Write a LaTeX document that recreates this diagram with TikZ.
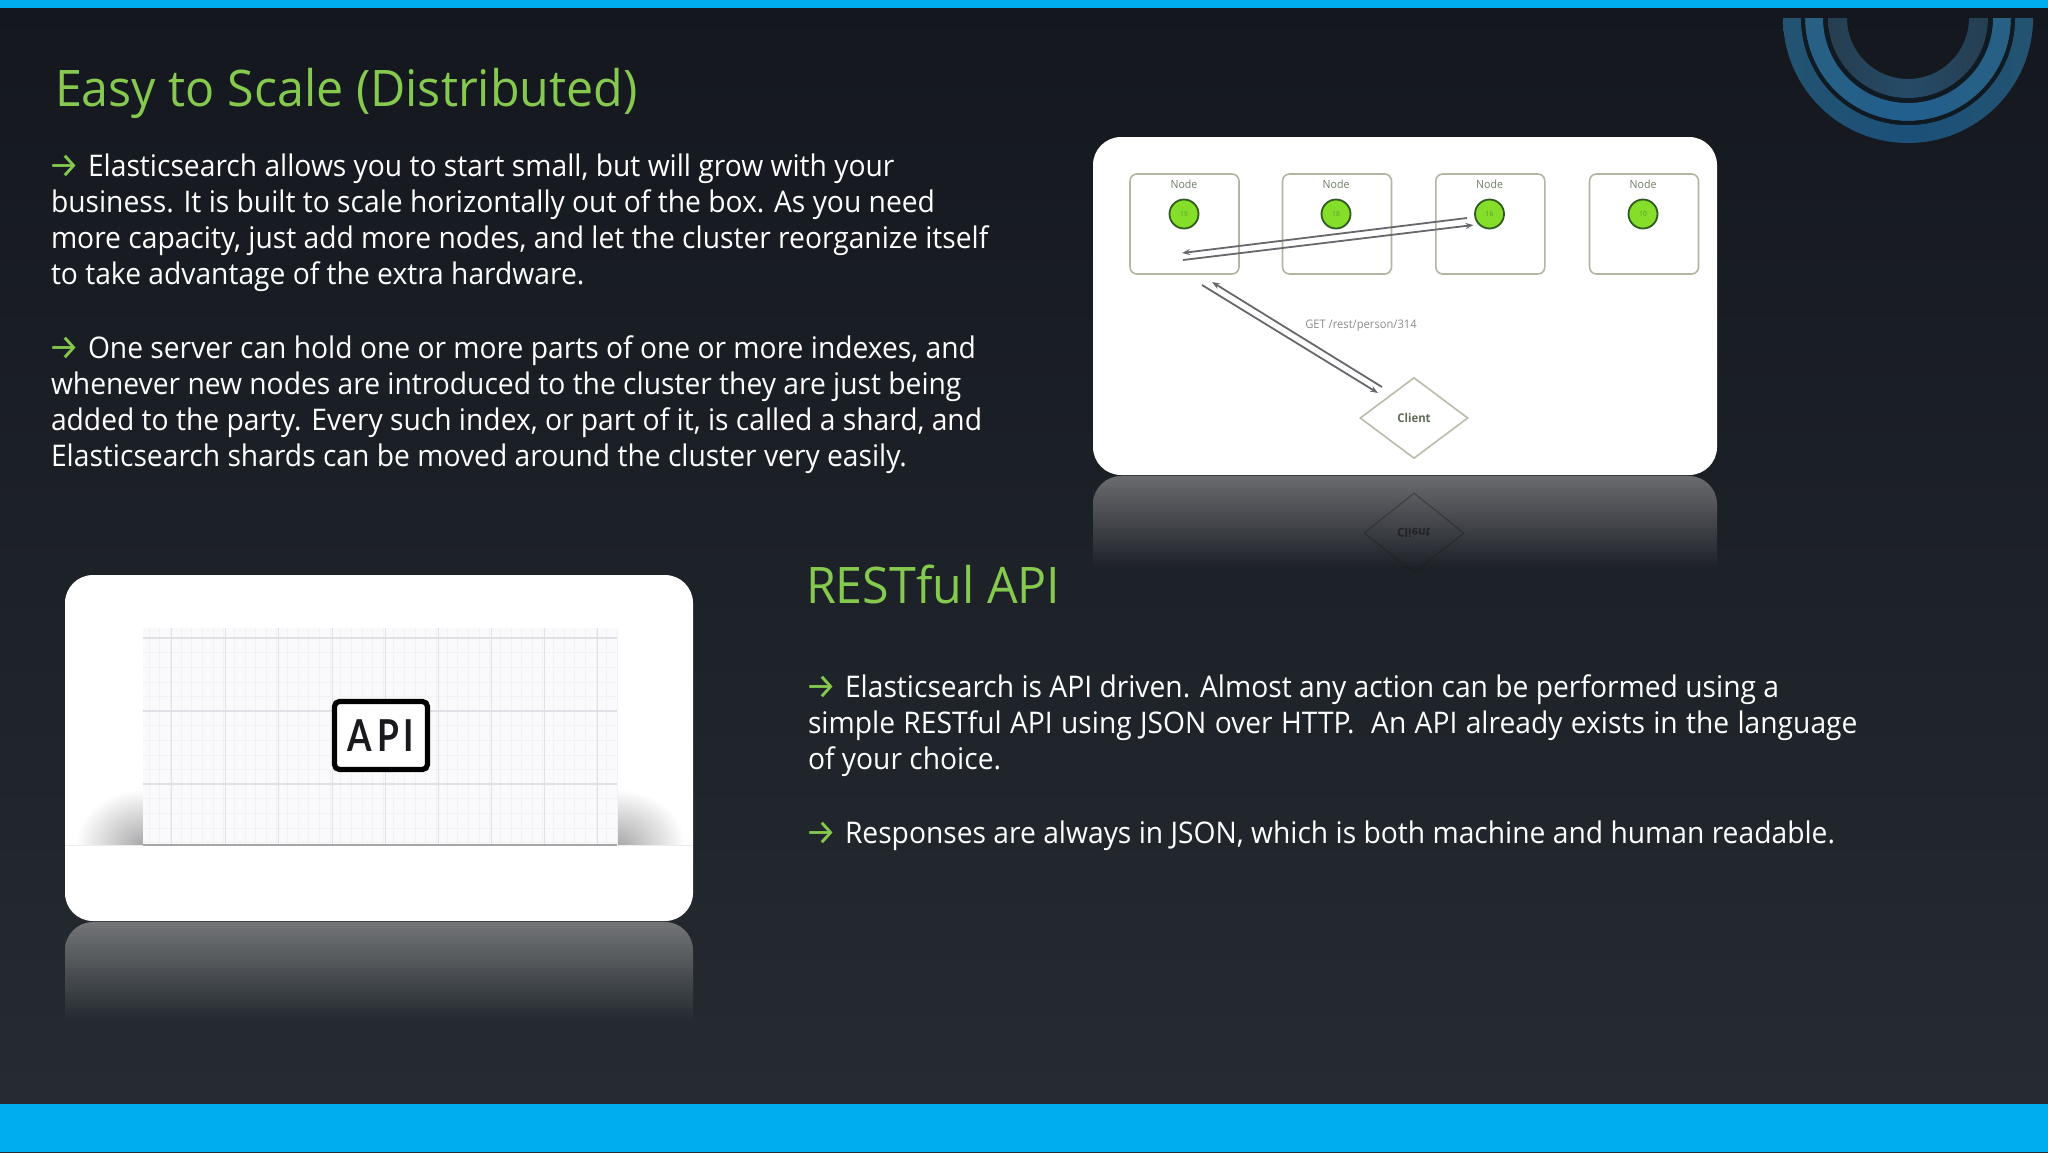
\documentclass[tikz,border=0pt]{standalone}
\usepackage{fontspec}
\usetikzlibrary{shapes.geometric,arrows.meta}
\setmainfont[FakeStretch=0.947]{Open Sans}
\newfontfamily\titlefont[FakeStretch=0.96]{Open Sans}
\newfontfamily\arrowfont{Fira Sans}
\newfontfamily\apifont[FakeStretch=0.8]{Lato}
\definecolor{barblue}{HTML}{00AEEF}
\definecolor{titlegreen}{HTML}{86C94F}
\definecolor{bgtop}{HTML}{14171E}
\definecolor{bgbot}{HTML}{262C32}
\definecolor{nodeedge}{HTML}{B2B5A0}
\definecolor{nodetext}{HTML}{6F7D64}
\definecolor{clienttext}{HTML}{5F6B55}
\definecolor{shardedge}{HTML}{2F5A20}
\definecolor{shardfill}{HTML}{84DE2A}
\definecolor{shardtext}{HTML}{5C9A30}
\definecolor{linkgray}{HTML}{66686C}
\definecolor{gridminor}{HTML}{F2F1F4}
\definecolor{gridmajor}{HTML}{E2E0E6}
\definecolor{gridfill}{HTML}{FAF9FB}
\definecolor{ringA}{HTML}{235370}
\definecolor{ringAm}{HTML}{1C507A}
\definecolor{ringB}{HTML}{286083}
\definecolor{ringBm}{HTML}{225F8E}
\definecolor{ringC}{HTML}{263E50}
\definecolor{ringCm}{HTML}{264B68}
\definecolor{ringgap}{HTML}{0F1A22}
\definecolor{refltop}{HTML}{6A6B6F}
\definecolor{reflbotA}{HTML}{1B1F26}
\definecolor{reflmid}{HTML}{44464A}
\definecolor{refltopB}{HTML}{737577}
\definecolor{reflbotB}{HTML}{242A30}
\definecolor{diaedge}{HTML}{B8BCA8}
\definecolor{shadowgray}{HTML}{A8A8AA}
\definecolor{apitext}{HTML}{1A1A1E}
\tikzset{
  x=0.5pt,y=-0.5pt,
  bodyline/.style={anchor=base west,inner sep=0pt,outer sep=0pt,text=white,font=\fontsize{14.9}{18}\selectfont},
  headline/.style={anchor=base west,inner sep=0pt,outer sep=0pt,text=titlegreen,font=\fontsize{25.2}{30}\selectfont\titlefont},
  card/.style={fill=white,rounded corners=14pt},
  nodebox/.style={draw=nodeedge,line width=0.8pt,rounded corners=3.5pt,fill=white,minimum width=54.5pt,minimum height=50pt,inner sep=0pt},
  shardcircle/.style={circle,draw=shardedge,line width=0.9pt,fill=shardfill,minimum size=14.5pt,inner sep=0pt,text=shardtext,font=\fontsize{3.5}{4}\selectfont},
  nodetitle/.style={inner sep=0pt,text=nodetext,font=\fontsize{5.6}{6}\selectfont},
  link/.style={draw=linkgray,line width=0.9pt,-{Stealth[length=4pt,width=3pt]}},
}
\newcommand{\arw}{\makebox[18.5pt][l]{\hspace{-1.1pt}\raisebox{-0.6pt}{\arrowfont\fontsize{17.5}{18}\selectfont\textcolor{titlegreen}{→}}}}
\begin{document}
\begin{tikzpicture}
\useasboundingbox (0,0) rectangle (2048,1152);
% background
\shade[top color=bgtop,bottom color=bgbot] (0,0) rectangle (2048,1152);
\fill[barblue] (0,0) rectangle (2048,8);
\fill[barblue] (0,1104) rectangle (2048,1152);
% decorative rings
\shade[left color=ringA,right color=ringA,middle color=ringAm]
  (1783,18) arc[start angle=180,end angle=360,radius=62.5pt] -- (2015,18) arc[start angle=360,end angle=180,radius=53.5pt] -- cycle;
\shade[left color=ringB,right color=ringB,middle color=ringBm]
  (1805,18) arc[start angle=180,end angle=360,radius=51.5pt] -- (1993,18) arc[start angle=360,end angle=180,radius=42.5pt] -- cycle;
\shade[left color=ringC,right color=ringC,middle color=ringCm]
  (1828,18) arc[start angle=180,end angle=360,radius=40pt] -- (1969,18) arc[start angle=360,end angle=180,radius=30.5pt] -- cycle;
\draw[ringgap,line width=2pt] (1803,18) arc[start angle=180,end angle=360,radius=52.5pt];
\draw[ringgap,line width=2pt] (1825.5,18) arc[start angle=180,end angle=360,radius=41.25pt];
% headings
\node[headline] (title1) at (55,106) {Easy to Scale (Distributed)};
\node[headline] (title2) at (806,603) {RESTful API};
% text
\node[bodyline] (p1a) at (51,176.5) {\arw Elasticsearch allows you to start small, but will grow with your};
\node[bodyline] (p1b) at (51,212.5) {business. It is built to scale horizontally out of the box. As you need};
\node[bodyline] (p1c) at (51,248.5) {more capacity, just add more nodes, and let the cluster reorganize itself};
\node[bodyline] (p1d) at (51,284.5) {to take advantage of the extra hardware.};
\node[bodyline] (p2a) at (51,358.5) {\arw One server can hold one or more parts of one or more indexes, and};
\node[bodyline] (p2b) at (51,394.5) {whenever new nodes are introduced to the cluster they are just being};
\node[bodyline] (p2c) at (51,430.5) {added to the party. Every such index, or part of it, is called a shard, and};
\node[bodyline] (p2d) at (51,466.5) {Elasticsearch shards can be moved around the cluster very easily.};
\node[bodyline] (p3a) at (808,697) {\arw Elasticsearch is API driven. Almost any action can be performed using a};
\node[bodyline] (p3b) at (808,733) {\spaceskip=\dimexpr\fontdimen2\font+0.5pt\relax simple RESTful API using JSON over HTTP.\ \ An API already exists in the language};
\node[bodyline] (p3c) at (808,769) {of your choice.};
\node[bodyline] (p4a) at (808,843) {\arw Responses are always in JSON, which is both machine and human readable.};
% reflection 1
\shade[top color=refltop,bottom color=reflbotA]
  (1093,570) -- (1093,490) [rounded corners=14pt] -- (1093,476) -- (1717,476) [sharp corners] -- (1717,570) -- cycle;
\node[diamond,draw=black!60!reflmid,line width=0.6pt,opacity=.4,minimum width=50pt,minimum height=40pt,inner sep=0pt] (clientmirror) at (1414,533) {};
\node[yscale=-1,opacity=.45,text=black,font=\fontsize{6}{7}\selectfont\bfseries,inner sep=0pt] (clienttxt) at (1414,533) {Client};
% card 1
\fill[card] (1093,137) rectangle (1717,475);
\node[nodebox] (n1) at (1184.5,224) {};
\node[nodebox] (n2) at (1337,224) {};
\node[nodebox] (n3) at (1490.3,224) {};
\node[nodebox] (n4) at (1644,224) {};
\foreach \n/\xx/\lab in {t1/1184/19,t2/1336/18,t3/1489.5/16,t4/1643/10}{
  \node[nodetitle] (\n) at (\xx,184) {Node};
  \node[shardcircle] (c\n) at (\xx,214) {\lab};
}
\coordinate (a1s) at (1467,218); \coordinate (a1e) at (1182,253);
\coordinate (a2s) at (1183,260); \coordinate (a2e) at (1473.5,225);
\coordinate (a3s) at (1382,387); \coordinate (a3e) at (1212,282);
\coordinate (a4s) at (1202,285); \coordinate (a4e) at (1378,393);
\draw[link] (a1s) -- (a1e);
\draw[link] (a2s) -- (a2e);
\draw[link] (a3s) -- (a3e);
\draw[link] (a4s) -- (a4e);
\node[inner sep=0pt,text=gray!90,font=\fontsize{5.9}{7}\selectfont] (get) at (1361,325.5) {GET /rest/person/314};
\node[diamond,draw=diaedge,line width=0.8pt,fill=white,minimum width=54pt,minimum height=40.5pt,inner sep=0pt] (client) at (1414,418) {};
\node[inner sep=0pt,text=clienttext,font=\fontsize{6}{7}\selectfont\bfseries] (clientlab) at (1414,418) {Client};
% reflection 2
\shade[top color=refltopB,bottom color=reflbotB]
  (65,1020) -- (65,936) [rounded corners=14pt] -- (65,922) -- (693,922) [sharp corners] -- (693,1020) -- cycle;
% card 2
\fill[card] (65,575) rectangle (693,921);
\begin{scope}
 \clip (65,750) rectangle (143.4,845);
 \shade[inner color=shadowgray,outer color=white] (143.4,845) ellipse[x radius=34pt,y radius=28pt];
\end{scope}
\begin{scope}
 \clip (617,750) rectangle (693,845);
 \shade[inner color=shadowgray,outer color=white] (617,845) ellipse[x radius=34pt,y radius=28pt];
\end{scope}
\fill[gridfill] (143.4,628) rectangle (617,845);
\foreach \i in {0,...,44} \draw[gridminor,line width=0.25pt] ({149+\i*10.64},628) -- ({149+\i*10.64},845);
\foreach \i in {0,...,14} \draw[gridminor,line width=0.25pt] (143.4,{638+\i*14.6}) -- (617,{638+\i*14.6});
\foreach \xx in {171,225,278.5,332,385,438,491,544.5,597} \draw[gridmajor,line width=0.5pt] (\xx,628) -- (\xx,845);
\foreach \yy in {638,711,784} \draw[gridmajor,line width=0.7pt] (143.4,\yy) -- (617,\yy);
\draw[gray!15,line width=0.4pt] (65,845) -- (693,845);
\draw[gray!70,line width=0.7pt] (143.4,845) -- (617,845);
\node[draw=black,line width=2.6pt,rounded corners=2.5pt,fill=white,minimum width=46.5pt,minimum height=34pt,inner sep=0pt,font=\fontsize{22}{24}\selectfont\apifont\bfseries,text=apitext] (api) at (381,735.5) {A\kern2.5ptP\kern2.5ptI};
\end{tikzpicture}
\end{document}
